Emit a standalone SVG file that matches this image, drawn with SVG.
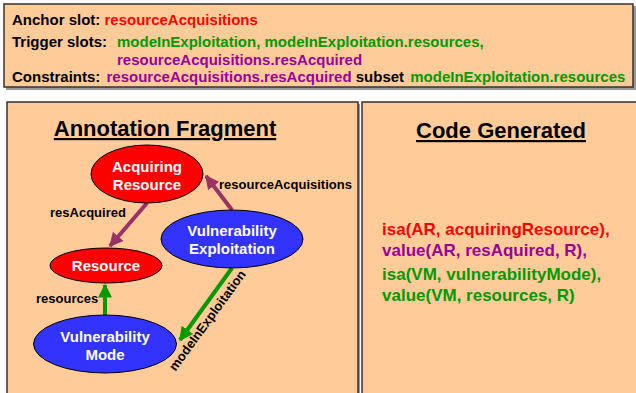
<svg xmlns="http://www.w3.org/2000/svg" width="636" height="393" viewBox="0 0 636 393">
<style>
text{font-family:"Liberation Sans",Arial,sans-serif;font-weight:bold}
.box{fill:#FFCC99;stroke:#333;stroke-width:1.5}
.shadow{fill:#999}
.top{font-size:15px}
.blk{fill:#000}.red{fill:#FF0000}.grn{fill:#009900}.pur{fill:#990099}
.title{font-size:22px;text-decoration:underline;text-anchor:middle}
.code{font-size:17px}
.node{font-size:15px;fill:#fff;text-anchor:middle}
.lbl{font-size:13px;fill:#000}
.er{fill:#FF0000;stroke:#000;stroke-width:1}
.eb{fill:#3333FF;stroke:#000;stroke-width:1}
.ap{stroke:#993366;stroke-width:4;fill:none}
.ag{stroke:#009900;stroke-width:4;fill:none}
</style>
<defs>
<marker id="mp" viewBox="0 0 10 10" refX="9" refY="5" markerWidth="3.5" markerHeight="3.5" orient="auto"><path d="M0,0L10,5L0,10z" fill="#993366"/></marker>
<marker id="mg" viewBox="0 0 10 10" refX="9" refY="5" markerWidth="3.5" markerHeight="3.5" orient="auto"><path d="M0,0L10,5L0,10z" fill="#009900"/></marker>
</defs>
<rect width="636" height="393" fill="#fff"/>
<g id="header">
<rect class="shadow" x="6" y="6" width="630" height="84"/>
<rect class="box" x="4" y="4" width="629" height="83"/>
<text class="top" x="12" y="25"><tspan class="blk">Anchor slot: </tspan><tspan class="red">resourceAcquisitions</tspan></text>
<text class="top" x="12" y="47"><tspan class="blk">Trigger slots:</tspan></text>
<text class="top grn" x="117" y="47">modeInExploitation, modeInExploitation.resources,</text>
<text class="top pur" x="117" y="65">resourceAcquisitions.resAcquired</text>
<text class="top" x="12" y="82"><tspan class="blk">Constraints: </tspan><tspan class="pur" dx="2">resourceAcquisitions.resAcquired</tspan><tspan class="blk"> subset </tspan><tspan class="grn" dx="2">modeInExploitation.resources</tspan></text>
</g>
<g id="annotation-panel">
<rect class="shadow" x="9" y="104" width="351" height="300"/>
<rect class="box" x="7" y="102" width="351" height="300"/>
<text class="title" x="165" y="136">Annotation Fragment</text>
</g>
<g id="code-panel">
<rect class="shadow" x="364" y="104" width="280" height="300"/>
<rect class="box" x="362" y="102" width="280" height="300"/>
<text class="title" x="501" y="138">Code Generated</text>
<text class="code red" x="382" y="235">isa(AR, acquiringResource),</text>
<text class="code pur" x="382" y="256">value(AR, resAquired, R),</text>
<text class="code grn" x="382" y="280">isa(VM, vulnerabilityMode),</text>
<text class="code grn" x="382" y="301">value(VM, resources, R)</text>
</g>
<g id="connectors">
<line class="ap" x1="147" y1="203" x2="110" y2="246" marker-end="url(#mp)"/>
<line class="ap" x1="232" y1="210" x2="206" y2="176" marker-end="url(#mp)"/>
<line class="ag" x1="105" y1="315" x2="105" y2="285" marker-end="url(#mg)"/>
<line class="ag" x1="232" y1="268" x2="180" y2="340" marker-end="url(#mg)"/>
<text class="lbl" x="50" y="217">resAcquired</text>
<text class="lbl" x="219" y="189">resourceAcquisitions</text>
<text class="lbl" x="36" y="303">resources</text>
<text class="lbl" text-anchor="middle" transform="translate(211,323) rotate(-54)">modeInExploitation</text>
</g>
<g id="acquiring-resource">
<ellipse class="er" cx="147" cy="174" rx="56" ry="29"/>
<text class="node" x="147" y="172">Acquiring</text>
<text class="node" x="147" y="190">Resource</text>
</g>
<g id="resource">
<ellipse class="er" cx="106" cy="265.5" rx="56" ry="17.5"/>
<text class="node" x="106" y="271">Resource</text>
</g>
<g id="vulnerability-exploitation">
<ellipse class="eb" cx="232" cy="239" rx="71" ry="29"/>
<text class="node" x="232" y="236">Vulnerability</text>
<text class="node" x="232" y="254">Exploitation</text>
</g>
<g id="vulnerability-mode">
<ellipse class="eb" cx="105" cy="344" rx="71.5" ry="29"/>
<text class="node" x="105" y="342">Vulnerability</text>
<text class="node" x="105" y="360">Mode</text>
</g>
</svg>
